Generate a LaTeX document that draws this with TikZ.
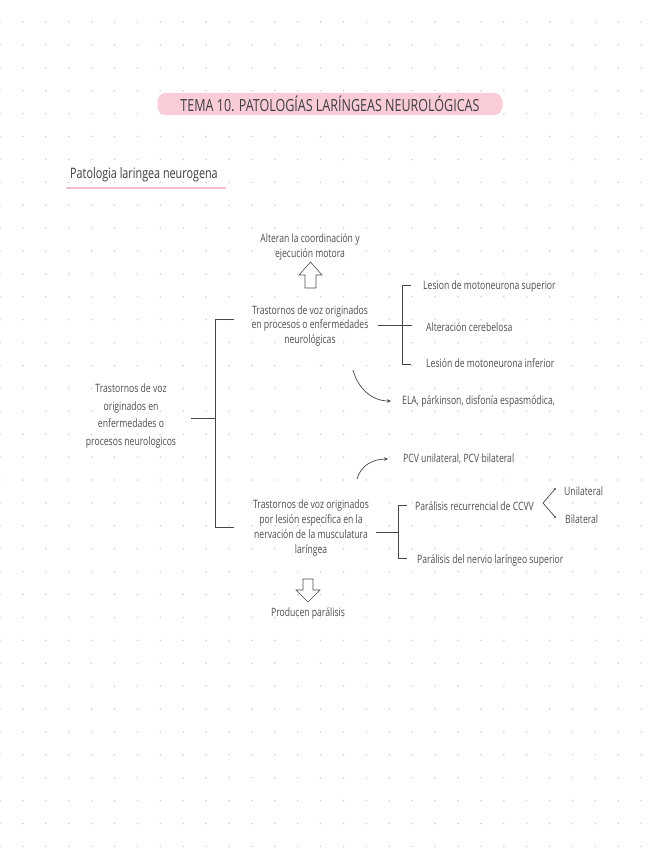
\documentclass[tikz,border=0pt]{standalone}
\usepackage{fontspec}
\setmainfont[FakeStretch=0.75]{Open Sans}
\usepackage{xcolor}
\usetikzlibrary{arrows.meta}

\definecolor{inkgray}{HTML}{4E4E4E}
\definecolor{titlepink}{HTML}{F9CCD7}
\definecolor{linepink}{HTML}{F6BCCB}
\definecolor{dotgray}{HTML}{D2D2D2}

\tikzset{
  note/.style={text=inkgray, align=center, inner sep=1pt, font=\fontsize{11.5}{14.5}\selectfont},
  leaf/.style={note, anchor=west},
  brk/.style={draw=inkgray!90!black, line width=0.7pt},
  hollow/.style={draw=inkgray, line width=0.6pt, fill=white, line join=miter},
  curvearrow/.style={brk, -{Stealth[length=4pt, width=3.5pt]}},
}

\begin{document}
\begin{tikzpicture}[x=1pt, y=-1pt]
  \useasboundingbox (0,0) rectangle (656,848);
  \fill[white] (0,0) rectangle (656,848);

  % Dot grid
  \foreach \i in {0,...,28}
    \foreach \j in {0,...,36}
      \fill[dotgray] (\i*22.9, 22+\j*22.9) circle (0.9pt);

  % Title and heading
  \node[fill=titlepink, rounded corners=9pt, minimum width=345pt, minimum height=18pt,
        text=inkgray!80!black, font=\fontsize{16.7}{17}\selectfont] (title) at (330,104)
        {TEMA 10. PATOLOGÍAS LARÍNGEAS NEUROLÓGICAS};
  \node[anchor=west, text=inkgray!80!black, inner sep=1pt, font=\fontsize{14.4}{15}\selectfont]
        (sub) at (69,175) {Patologia laringea neurogena};
  \draw[linepink, line width=2.7pt, line cap=round] (67,188) -- (225,188);

  % Main node
  \node[note, font=\fontsize{11.5}{17.5}\selectfont] (main) at (131,416)
        {Trastornos de voz\\originados en\\enfermedades o\\procesos neurologicos};

  % Branch 1: enfermedades neurologicas
  \node[note] (alt) at (310,247) {Alteran la coordinación y\\ejecución motora};
  \node[note] (b1) at (310,326) {Trastornos de voz originados\\en procesos o enfermedades\\neurológicas};
  \node[leaf] (sup) at (422,287) {Lesion de motoneurona superior};
  \node[leaf] (cer) at (425,327) {Alteración cerebelosa};
  \node[leaf] (inf) at (425,363) {Lesión de motoneurona inferior};
  \node[leaf] (ela) at (401,401) {ELA, párkinson, disfonía espasmódica,};

  % Branch 2: lesion de la nervacion
  \node[leaf] (pcv) at (402,459) {PCV unilateral, PCV bilateral};
  \node[note, font=\fontsize{11.5}{14.8}\selectfont] (b2) at (311,528)
        {Trastornos de voz originados\\por lesión específica en la\\nervación de la musculatura\\laríngea};
  \node[leaf] (rec) at (414,506) {Parálisis recurrencial de CCVV};
  \node[leaf] (slp) at (416,560) {Parálisis del nervio laríngeo superior};
  \node[leaf] (uni) at (563,491) {Unilateral};
  \node[leaf] (bil) at (564,519) {Bilateral};
  \node[note] (prod) at (308,613) {Producen parálisis};

  % Left bracket
  \draw[brk] (main.east) ++(14,2) -- (215,418);
  \draw[brk] (234,319) -- (215,319) -- (215,527) -- (234,527);

  % Bracket of b1
  \draw[brk] (b1.east) ++(8,-1) -- (412,325);
  \draw[brk] (411,285) -- (402,285) -- (402,364) -- (411,364);

  % Bracket of b2
  \draw[brk] (b2.east) ++(6,4) -- (398,532);
  \draw[brk] (407,505) -- (398,505) -- (398,558) -- (407,558);

  % Unilateral / Bilateral
  \coordinate (vtx) at (543,503);
  \draw[brk] (555,489) -- (vtx) -- (555,517);
  \fill[inkgray] (555,489) circle (1.1pt) (555,517) circle (1.1pt);

  % Curved arrows
  \coordinate (c1) at (353,370);
  \draw[curvearrow] (c1) to[out=-75, in=180] ([xshift=-10pt]ela.west);
  \coordinate (c2) at (357,479);
  \draw[curvearrow] (c2) to[out=75, in=180] ([xshift=-14pt]pcv.west);

  % Hollow arrows
  \draw[hollow] (305,288) -- (305,275) -- (299,275) -- (310.5,262) -- (322,275) -- (316,275) -- (316,288) -- cycle;
  \draw[hollow] (303,579) -- (303,590) -- (296,590) -- (308,602) -- (320,590) -- (313,590) -- (313,579) -- cycle;
\end{tikzpicture}
\end{document}
